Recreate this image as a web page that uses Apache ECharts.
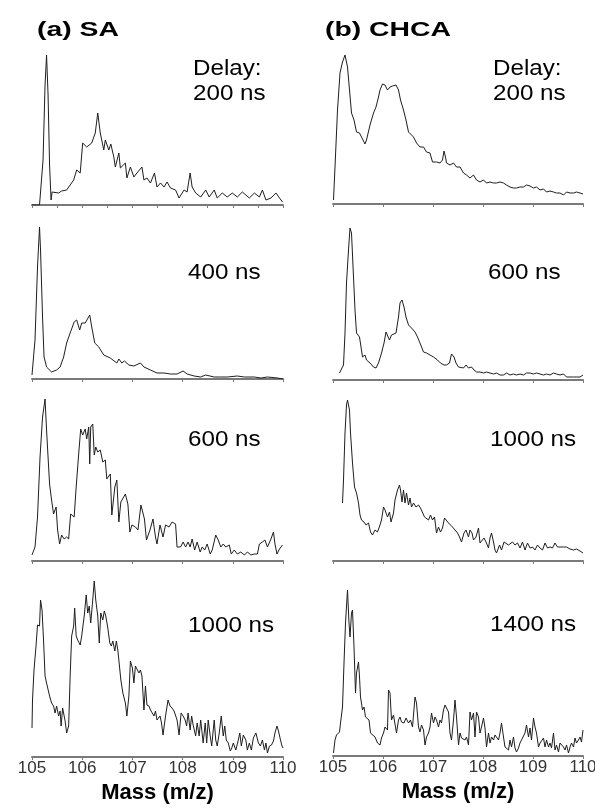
<!DOCTYPE html>
<html>
<head>
<meta charset="utf-8">
<script src="https://cdn.jsdelivr.net/npm/echarts@6/dist/echarts.min.js"></script>
<style>
html,body{margin:0;padding:0;background:#fff;}
#chart{width:595px;height:811px;}
</style>
</head>
<body>
<div id="chart"></div>
<script>
// ---------- DATA (mass in m/z, intensity in arbitrary units) ----------
const tickLabels = ['105','106','107','108','109','110'];
const titleA = '(a) SA';
const titleB = '(b) CHCA';
const delaysA = ['200 ns','400 ns','600 ns','1000 ns'];
const delaysB = ['200 ns','600 ns','1000 ns','1400 ns'];
const axisTitle = 'Mass (m/z)';

// (a) SA, 200 ns
const massA1 = [105.00,105.15,105.22,105.26,105.29,105.32,105.35,105.38,105.40,105.43,105.53,105.59,105.69,105.76,105.83,105.89,105.96,106.01,106.09,106.19,106.26,106.31,106.36,106.43,106.46,106.53,106.57,106.63,106.66,106.73,106.76,106.86,106.89,106.96,107.03,107.09,107.19,107.23,107.29,107.36,107.44,107.49,107.56,107.63,107.69,107.76,107.86,107.93,108.03,108.09,108.15,108.19,108.26,108.36,108.46,108.53,108.63,108.69,108.79,108.89,108.99,109.09,109.19,109.26,109.33,109.43,109.53,109.59,109.66,109.76,109.86,109.93,109.99];
const intA1 = [0,0,45,120,150,110,40,5,13,13,12,14,15,20,25,35,32,62,58,62,72,92,72,55,65,55,61,48,38,52,37,42,27,38,28,32,38,25,27,22,32,18,22,18,23,17,15,7,15,13,32,18,12,8,15,8,15,7,12,8,12,8,13,10,7,12,8,15,5,7,12,7,3];

// (a) SA, 400 ns
const massA2 = [105.00,105.06,105.11,105.15,105.17,105.21,105.24,105.29,105.39,105.49,105.56,105.63,105.69,105.76,105.84,105.89,105.95,105.99,106.06,106.15,106.19,106.25,106.33,106.43,106.56,106.69,106.73,106.79,106.84,106.93,107.03,107.16,107.23,107.36,107.49,107.63,107.76,107.89,108.01,108.09,108.23,108.36,108.46,108.63,108.76,108.89,109.09,109.23,109.43,109.56,109.69,109.89,110.00];
const intA2 = [4,39,112,152,129,62,22,12,7,9,12,22,36,46,57,59,49,56,56,64,52,36,32,24,21,16,20,16,18,14,13,16,12,9,6,6,5,5,8,5,3,2,4,2,2,2,3,2,2,1,2,1,0];

// (a) SA, 600 ns
const massA3 = [105.00,105.06,105.11,105.16,105.21,105.26,105.29,105.35,105.39,105.43,105.48,105.51,105.55,105.59,105.64,105.69,105.73,105.77,105.84,105.88,105.93,105.97,106.01,106.06,106.09,106.13,106.15,106.17,106.21,106.24,106.27,106.31,106.36,106.41,106.46,106.49,106.56,106.59,106.65,106.69,106.73,106.77,106.86,106.91,106.95,106.99,107.06,107.11,107.17,107.24,107.28,107.35,107.41,107.46,107.49,107.55,107.61,107.66,107.73,107.79,107.86,107.89,107.96,108.01,108.06,108.11,108.15,108.19,108.24,108.29,108.35,108.39,108.44,108.49,108.55,108.59,108.66,108.71,108.76,108.81,108.86,108.93,108.97,109.03,109.09,109.16,109.23,109.29,109.36,109.43,109.49,109.53,109.59,109.64,109.69,109.76,109.81,109.84,109.88,109.93,109.99];
const intA3 = [6,14,44,104,144,162,131,77,61,47,54,31,17,26,22,24,22,47,44,74,107,132,126,132,122,134,97,134,137,106,114,109,111,99,101,82,87,46,74,81,39,59,67,57,29,36,34,31,56,42,21,31,42,24,17,36,24,36,34,39,37,14,14,19,14,19,14,22,11,19,9,14,11,17,7,11,26,21,14,17,14,16,7,11,7,9,6,9,6,7,7,17,19,21,14,22,29,17,7,12,16];

// (a) SA, 1000 ns
const massA4 = [105.00,105.01,105.04,105.08,105.11,105.15,105.17,105.20,105.23,105.26,105.29,105.35,105.39,105.43,105.46,105.49,105.53,105.56,105.58,105.61,105.66,105.69,105.73,105.76,105.79,105.83,105.85,105.88,105.91,105.96,105.99,106.04,106.08,106.11,106.14,106.17,106.21,106.24,106.27,106.31,106.34,106.37,106.41,106.44,106.47,106.51,106.55,106.58,106.61,106.65,106.68,106.71,106.73,106.77,106.81,106.86,106.89,106.93,106.96,107.00,107.03,107.06,107.09,107.13,107.16,107.19,107.23,107.26,107.29,107.33,107.36,107.39,107.43,107.46,107.49,107.55,107.58,107.61,107.66,107.71,107.75,107.79,107.83,107.86,107.89,107.93,107.97,108.01,108.05,108.08,108.11,108.15,108.18,108.21,108.26,108.29,108.33,108.36,108.41,108.45,108.48,108.51,108.55,108.58,108.63,108.66,108.69,108.73,108.77,108.81,108.84,108.87,108.91,108.95,108.98,109.01,109.06,109.11,109.14,109.17,109.21,109.26,109.29,109.33,109.37,109.41,109.46,109.51,109.55,109.59,109.63,109.66,109.69,109.73,109.77,109.81,109.84,109.88,109.91,109.95,109.98,110.00];
const intA4 = [29,57,87,111,132,131,157,147,117,81,74,61,54,51,44,51,41,46,31,49,36,24,31,81,121,131,149,121,117,112,121,141,162,144,151,134,157,176,157,141,114,144,137,146,141,129,114,111,116,106,116,107,97,77,64,54,41,61,96,89,74,91,89,84,87,81,47,71,52,51,47,46,41,46,37,41,34,22,41,57,51,49,46,44,37,22,44,41,37,31,44,27,41,32,21,34,21,37,14,34,14,37,21,11,37,17,11,24,41,21,31,17,14,6,9,14,7,17,24,11,22,17,7,14,7,19,24,14,11,17,7,14,4,11,12,16,24,31,26,17,11,9];

// (b) CHCA, 200 ns
const massB1 = [105.01,105.04,105.09,105.14,105.19,105.24,105.29,105.33,105.37,105.42,105.47,105.53,105.57,105.64,105.67,105.74,105.81,105.86,105.91,105.94,105.99,106.04,106.09,106.14,106.19,106.26,106.31,106.35,106.41,106.46,106.51,106.55,106.61,106.67,106.74,106.81,106.87,106.94,106.99,107.07,107.14,107.19,107.22,107.25,107.27,107.34,107.41,107.47,107.54,107.61,107.67,107.74,107.81,107.87,107.94,108.01,108.07,108.14,108.21,108.27,108.34,108.41,108.47,108.54,108.61,108.67,108.74,108.81,108.87,108.94,109.01,109.07,109.14,109.21,109.27,109.34,109.41,109.47,109.54,109.61,109.67,109.74,109.81,109.87,109.94,110.00];
const intB1 = [4,37,94,131,142,149,137,114,91,84,72,71,67,60,64,79,91,97,107,114,120,119,114,117,118,119,114,104,94,84,72,71,67,61,57,57,52,51,42,42,41,44,53,47,41,39,41,37,37,31,29,26,29,24,22,24,21,22,21,21,22,21,19,17,16,16,17,17,19,18,16,17,14,15,12,13,12,11,11,9,12,11,11,12,11,10];

// (b) CHCA, 600 ns
const massB2 = [105.13,105.17,105.21,105.24,105.27,105.31,105.34,105.37,105.41,105.44,105.47,105.53,105.56,105.59,105.64,105.67,105.74,105.81,105.86,105.91,105.97,106.02,106.06,106.09,106.13,106.17,106.21,106.26,106.31,106.34,106.38,106.42,106.46,106.51,106.57,106.61,106.64,106.69,106.74,106.81,106.87,106.94,107.01,107.04,107.09,107.15,107.22,107.27,107.33,107.37,107.42,107.46,107.51,107.55,107.61,107.66,107.71,107.77,107.82,107.87,107.94,108.01,108.07,108.14,108.21,108.27,108.34,108.41,108.47,108.54,108.61,108.67,108.74,108.81,108.87,108.94,109.01,109.07,109.14,109.21,109.27,109.34,109.41,109.47,109.54,109.61,109.67,109.74,109.81,109.87,109.94,110.00];
const intB2 = [7,5,15,47,97,130,152,147,103,70,47,43,33,23,25,20,17,13,12,17,27,37,48,50,40,45,43,47,63,77,80,73,63,55,52,52,48,43,37,28,27,25,23,25,20,17,15,15,17,26,23,17,13,15,12,15,12,13,10,8,8,7,8,7,6,7,5,5,7,5,6,5,6,5,7,7,6,7,6,5,6,5,7,6,5,6,3,3,3,3,3,5];

// (b) CHCA, 1000 ns
const massB3 = [105.19,105.21,105.24,105.27,105.29,105.33,105.35,105.39,105.43,105.47,105.51,105.54,105.57,105.62,105.66,105.71,105.75,105.79,105.84,105.89,105.94,105.97,106.01,106.04,106.09,106.13,106.16,106.21,106.24,106.29,106.33,106.35,106.38,106.41,106.44,106.47,106.51,106.54,106.57,106.61,106.66,106.71,106.75,106.79,106.83,106.87,106.91,106.95,106.99,107.03,107.07,107.11,107.15,107.19,107.23,107.26,107.31,107.35,107.39,107.44,107.49,107.53,107.57,107.62,107.66,107.71,107.74,107.78,107.81,107.86,107.91,107.94,107.97,108.02,108.06,108.11,108.14,108.17,108.21,108.24,108.27,108.33,108.37,108.42,108.46,108.51,108.55,108.59,108.64,108.69,108.74,108.79,108.84,108.89,108.94,108.99,109.04,109.09,109.14,109.19,109.24,109.29,109.34,109.39,109.44,109.49,109.54,109.61,109.67,109.74,109.81,109.87,109.94,110.00];
const intB3 = [58,81,128,156,161,151,128,98,74,68,58,46,41,39,36,38,29,26,31,29,36,41,54,51,44,49,39,48,61,71,76,71,59,71,58,68,56,63,54,58,54,56,53,53,44,46,41,46,41,44,28,34,29,33,43,44,38,36,34,31,28,24,19,28,31,24,31,28,21,24,33,18,16,23,19,13,23,28,19,11,8,16,11,19,18,16,14,19,16,18,13,19,11,18,13,14,11,16,13,11,18,13,14,13,18,14,14,14,14,12,11,12,10,8];

// (b) CHCA, 1400 ns
const massB4 = [105.01,105.04,105.07,105.13,105.15,105.19,105.22,105.25,105.29,105.32,105.34,105.37,105.39,105.42,105.45,105.47,105.51,105.53,105.55,105.59,105.62,105.65,105.69,105.72,105.75,105.79,105.84,105.89,105.94,105.97,106.01,106.04,106.09,106.11,106.14,106.17,106.21,106.24,106.27,106.31,106.34,106.37,106.42,106.46,106.51,106.55,106.59,106.64,106.67,106.71,106.74,106.77,106.81,106.84,106.87,106.91,106.94,106.97,107.01,107.04,107.07,107.11,107.14,107.17,107.21,107.24,107.27,107.31,107.34,107.37,107.41,107.44,107.47,107.51,107.54,107.57,107.61,107.64,107.67,107.71,107.74,107.77,107.81,107.84,107.87,107.91,107.94,107.97,108.01,108.04,108.07,108.11,108.14,108.17,108.21,108.24,108.27,108.31,108.34,108.37,108.41,108.44,108.47,108.51,108.54,108.57,108.61,108.64,108.67,108.71,108.74,108.79,108.84,108.87,108.91,108.94,108.97,109.01,109.04,109.07,109.11,109.14,109.17,109.21,109.24,109.27,109.31,109.34,109.37,109.41,109.44,109.47,109.51,109.54,109.57,109.61,109.64,109.67,109.71,109.74,109.77,109.81,109.84,109.87,109.91,109.94,109.97,110.00];
const intB4 = [3,16,21,24,33,49,93,133,166,133,119,143,146,109,63,83,94,79,59,46,49,39,41,36,23,24,19,13,11,18,23,29,26,66,63,36,41,39,23,36,39,34,33,38,33,36,29,59,53,29,24,31,26,11,19,23,29,43,33,39,36,29,36,33,46,51,49,44,23,16,36,56,39,11,23,18,19,16,19,11,44,36,43,19,44,39,23,29,38,28,9,23,13,19,16,21,19,16,23,33,19,9,8,6,16,9,19,8,4,8,13,18,23,31,19,28,16,38,29,23,9,13,11,18,9,16,9,13,8,23,6,11,4,13,11,9,6,11,3,9,13,9,18,13,16,19,14,26];

// ---------- LAYOUT ----------
const columns = [
  { left: 32, width: 251, bases: [205, 379, 561, 757], mass: [massA1, massA2, massA3, massA4], ints: [intA1, intA2, intA3, intA4] },
  { left: 333, width: 250, bases: [204, 380, 561, 756], mass: [massB1, massB2, massB3, massB4], ints: [intB1, intB2, intB3, intB4] }
];
const PANEL_H = 180;
const AXIS_COLOR = '#7a7a7a';
const LINE_COLOR = '#1e1e1e';

const grid = [], xAxis = [], yAxis = [], series = [];
columns.forEach((col, c) => {
  col.bases.forEach((base, p) => {
    const idx = grid.length;
    const isBottom = p === 3;
    grid.push({ left: col.left, width: col.width, top: base - PANEL_H, height: PANEL_H, outerBoundsMode: 'none', containLabel: false });
    xAxis.push({
      type: 'value', gridIndex: idx, min: 105, max: 110,
      interval: (c === 0 && p === 0) ? 0.5 : 1,
      axisLine: { show: true, lineStyle: { color: AXIS_COLOR, width: 2 } },
      axisTick: { show: true, length: 3, lineStyle: { color: AXIS_COLOR, width: 1 } },
      splitLine: { show: false },
      axisLabel: {
        show: isBottom, margin: 3, color: '#333', fontSize: 17, fontFamily: 'Liberation Sans',
        formatter: v => tickLabels[Math.round(v) - 105] || ''
      },
      name: isBottom ? axisTitle : '',
      nameLocation: 'middle', nameGap: 25,
      nameTextStyle: { color: '#000', fontSize: 22, fontWeight: 'bold', fontFamily: 'Liberation Sans' }
    });
    yAxis.push({ type: 'value', gridIndex: idx, min: 0, max: PANEL_H, show: false, splitLine: { show: false } });
    const m = col.mass[p], v = col.ints[p];
    const n = Math.min(m.length, v.length);
    const data = [];
    for (let i = 0; i < n; i++) data.push([m[i], v[i]]);
    series.push({
      type: 'line', xAxisIndex: idx, yAxisIndex: idx, data: data,
      showSymbol: false, symbol: 'none', silent: true, animation: false,
      lineStyle: { color: LINE_COLOR, width: 1 }
    });
  });
});

// ---------- TEXT ----------
function txt(x, y, text, font, sx) {
  return { type: 'text', x: x, y: y, scaleX: sx || 1, silent: true,
    style: { text: text, x: 0, y: 0, font: font, fill: '#000',
      textAlign: 'left', textVerticalAlign: 'middle', align: 'left', verticalAlign: 'middle' } };
}
const TITLE_FONT = 'bold 21px "Liberation Sans"';
const LABEL_FONT = '22px "Liberation Sans"';
const LSX = 1.1;
const graphic = [
  txt(37, 30, titleA, TITLE_FONT, 1.35),
  txt(325, 30, titleB, TITLE_FONT, 1.35),
  txt(193, 69, 'Delay:', LABEL_FONT, LSX),
  txt(193, 94, delaysA[0], LABEL_FONT, LSX),
  txt(188, 273, delaysA[1], LABEL_FONT, LSX),
  txt(188, 440, delaysA[2], LABEL_FONT, LSX),
  txt(188, 626, delaysA[3], LABEL_FONT, LSX),
  txt(493, 69, 'Delay:', LABEL_FONT, LSX),
  txt(493, 94, delaysB[0], LABEL_FONT, LSX),
  txt(488, 273, delaysB[1], LABEL_FONT, LSX),
  txt(490, 440, delaysB[2], LABEL_FONT, LSX),
  txt(490, 625, delaysB[3], LABEL_FONT, LSX)
];

const chart = echarts.init(document.getElementById('chart'), null, { renderer: 'canvas', width: 595, height: 811 });
chart.setOption({
  backgroundColor: '#ffffff',
  animation: false,
  grid: grid, xAxis: xAxis, yAxis: yAxis, series: series,
  graphic: graphic
});
</script>
</body>
</html>
